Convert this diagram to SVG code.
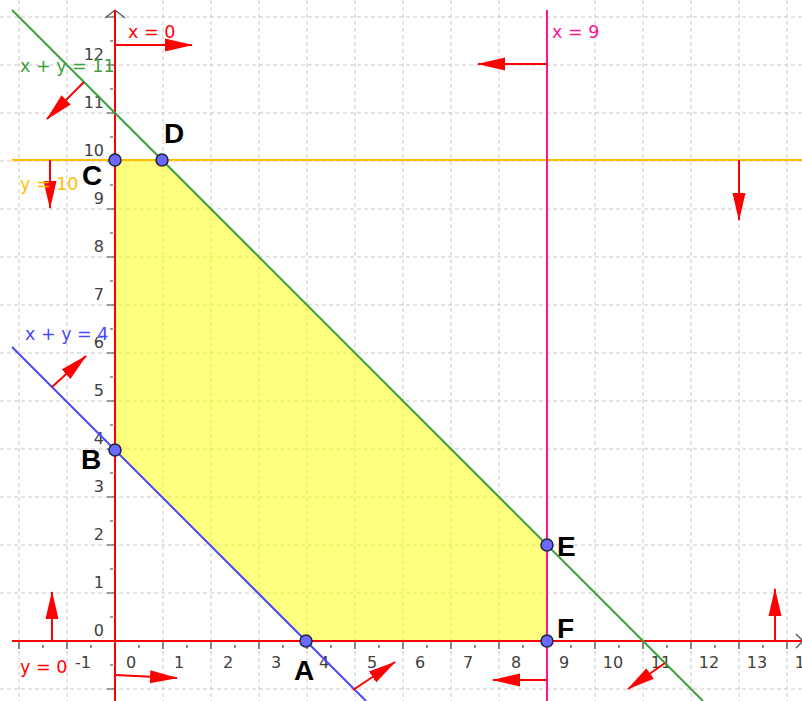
<svg xmlns="http://www.w3.org/2000/svg" width="802" height="701" viewBox="0 0 802 701">
<defs>
<style>
.grid{stroke:#c8c8c8;stroke-width:1;stroke-dasharray:4 3;fill:none}
.tick{stroke:#404040;stroke-width:1.2}
.num{font-family:"DejaVu Sans",sans-serif;font-size:16px;fill:#404040}
.lbl{font-family:"DejaVu Sans",sans-serif;font-size:17.5px}
.pl{font-family:"Liberation Sans",Arial,sans-serif;font-size:28px;font-weight:bold;fill:#000}
.vec{stroke:#ff0000;stroke-width:2;fill:none;marker-end:url(#ah)}
.pt{fill:#6a6aff;stroke:#202040;stroke-width:1.5}
</style>
<marker id="ah" markerUnits="userSpaceOnUse" markerWidth="28" markerHeight="14" viewBox="0 0 28 14" refX="27" refY="7" orient="auto">
<path d="M0,0.5 L28,7 L0,13.5 Z" fill="#ff0000"/>
</marker>
</defs>
<rect width="802" height="701" fill="#ffffff"/>
<g id="grid">
<path class="grid" d="M19 0V701M67 0V701M163 0V701M211 0V701M259 0V701M307 0V701M355 0V701M403 0V701M451 0V701M499 0V701M595 0V701M643 0V701M691 0V701M739 0V701M787 0V701M0 17H802M0 65H802M0 113H802M0 161H802M0 209H802M0 257H802M0 305H802M0 353H802M0 401H802M0 449H802M0 497H802M0 545H802M0 593H802M0 689H802"/>
</g>
<g id="region">
<polygon points="115,160 162,160 547,545 547,641 306,641 115,450" fill="#ffff00" fill-opacity="0.5"/>
</g>
<g id="axes">
<path class="tick" d="M19 641V649M67 641V649M163 641V649M211 641V649M259 641V649M307 641V649M355 641V649M403 641V649M451 641V649M499 641V649M547 641V649M595 641V649M643 641V649M691 641V649M739 641V649M787 641V649"/>
<path class="tick" d="M43 645V648M91 645V648M139 645V648M187 645V648M235 645V648M283 645V648M331 645V648M379 645V648M427 645V648M475 645V648M523 645V648M571 645V648M619 645V648M667 645V648M715 645V648M763 645V648"/>
<path class="tick" d="M107 689H115M107 593H115M107 545H115M107 497H115M107 449H115M107 401H115M107 353H115M107 305H115M107 257H115M107 209H115M107 161H115M107 113H115M107 65H115M107 17H115"/>
<path class="tick" d="M110 665H113M110 617H113M110 569H113M110 521H113M110 473H113M110 425H113M110 377H113M110 329H113M110 281H113M110 233H113M110 185H113M110 137H113M110 89H113M110 41H113"/>
<path d="M105 18L115 10L125 18" stroke="#555" stroke-width="1.3" fill="none"/>
<path d="M796 634L803 641L796 648" stroke="#555" stroke-width="1.3" fill="none"/>
<g class="num" text-anchor="middle">
<text x="83" y="668">-1</text><text x="131" y="668">0</text><text x="179" y="668">1</text><text x="228" y="668">2</text><text x="276" y="668">3</text><text x="324" y="668">4</text><text x="372" y="668">5</text><text x="420" y="668">6</text><text x="468" y="668">7</text><text x="516" y="668">8</text><text x="564" y="668">9</text><text x="613" y="668">10</text><text x="661" y="668">11</text><text x="709" y="668">12</text><text x="757" y="668">13</text><text x="805" y="668">14</text>
</g>
<g class="num" text-anchor="end">
<text x="104" y="636">0</text><text x="104" y="588">1</text><text x="104" y="540">2</text><text x="104" y="492">3</text><text x="104" y="444">4</text><text x="104" y="396">5</text><text x="104" y="348">6</text><text x="104" y="300">7</text><text x="104" y="252">8</text><text x="104" y="204">9</text><text x="104" y="156">10</text><text x="104" y="108">11</text><text x="104" y="60">12</text>
</g>
</g>
<g id="connectors">
<line id="line-x0" x1="115" y1="10" x2="115" y2="701" stroke="#ff0000" stroke-width="2"/>
<line id="line-y0" x1="12" y1="641" x2="802" y2="641" stroke="#ff0000" stroke-width="2"/>
<line id="line-y10" x1="12" y1="160" x2="802" y2="160" stroke="#ffbf00" stroke-width="2"/>
<line id="line-x9" x1="547" y1="10" x2="547" y2="701" stroke="#ff1493" stroke-width="2"/>
<line id="line-xy11" x1="12" y1="10" x2="703" y2="701" stroke="#3ca03c" stroke-width="2"/>
<line id="line-xy4" x1="12" y1="347" x2="366" y2="701" stroke="#4848ff" stroke-width="2"/>
<line class="vec" x1="115" y1="45" x2="192" y2="45"/>
<line class="vec" x1="84" y1="82" x2="47" y2="119"/>
<line class="vec" x1="50" y1="160" x2="50" y2="208"/>
<line class="vec" x1="739" y1="160" x2="739" y2="220"/>
<line class="vec" x1="547" y1="64" x2="478" y2="64"/>
<line class="vec" x1="52" y1="387" x2="86" y2="356"/>
<line class="vec" x1="52" y1="641" x2="52" y2="592"/>
<line class="vec" x1="115" y1="675" x2="177" y2="678"/>
<line class="vec" x1="353" y1="690" x2="395" y2="662"/>
<line class="vec" x1="547" y1="680" x2="493" y2="680"/>
<line class="vec" x1="665" y1="663" x2="628" y2="689"/>
<line class="vec" x1="775" y1="641" x2="775" y2="589"/>
</g>
<g id="line-labels">
<text class="lbl" x="128" y="38" fill="#ff0000">x = 0</text>
<text class="lbl" x="552" y="38" fill="#ff1493">x = 9</text>
<text class="lbl" x="20" y="72" fill="#3ca03c">x + y = 11</text>
<text class="lbl" x="20" y="190" fill="#ffbf00">y = 10</text>
<text class="lbl" x="25" y="340" fill="#4848ff">x + y = 4</text>
<text class="lbl" x="20" y="673" fill="#ff0000">y = 0</text>
</g>
<g id="node-C"><circle class="pt" cx="115" cy="160" r="6"/><text class="pl" x="82" y="185">C</text></g>
<g id="node-D"><circle class="pt" cx="162" cy="160" r="6"/><text class="pl" x="164" y="143">D</text></g>
<g id="node-B"><circle class="pt" cx="115" cy="450" r="6"/><text class="pl" x="81" y="469">B</text></g>
<g id="node-A"><circle class="pt" cx="306" cy="641" r="6"/><text class="pl" x="294" y="680">A</text></g>
<g id="node-E"><circle class="pt" cx="547" cy="545" r="6"/><text class="pl" x="557" y="556">E</text></g>
<g id="node-F"><circle class="pt" cx="547" cy="641" r="6"/><text class="pl" x="557" y="638">F</text></g>
</svg>
